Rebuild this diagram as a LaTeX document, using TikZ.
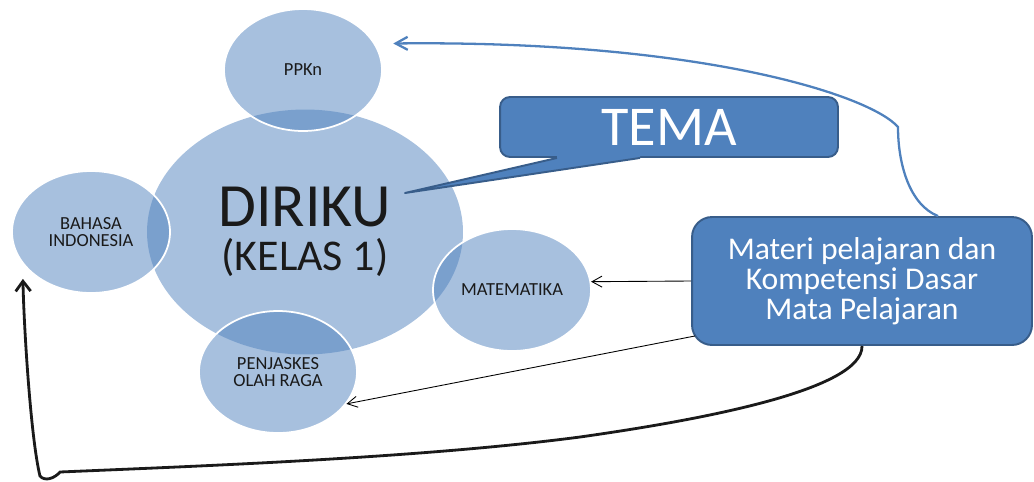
\documentclass[tikz,border=0pt]{standalone}
\usepackage{fontspec}
\setmainfont{Carlito}
\usepackage{xcolor}
\usetikzlibrary{shapes.geometric,arrows.meta,calc}
\definecolor{temablue}{HTML}{4F81BD}
\definecolor{temaline}{HTML}{385D8A}
\definecolor{temaink}{HTML}{1A1A1A}

\begin{document}
\begin{tikzpicture}[
    x=0.02cm,y=-0.02cm,
    mapel/.style  = {ellipse, fill=temablue, fill opacity=0.5, text opacity=1,
                     draw=white, line width=1pt, inner sep=0pt, align=center,
                     text=temaink, font=\fontsize{10.5}{9.5}\selectfont,
                     minimum width=3.16cm, minimum height=2.44cm},
    pusat/.style  = {mapel, draw=none, minimum width=6.32cm, minimum height=4.9cm,
                     font=\fontsize{25}{25}\selectfont},
    kotak/.style  = {rectangle, fill=temablue, draw=temaline, line width=1.1pt,
                     text=white, align=center, inner sep=2pt},
    tipis/.style  = {-{Straight Barb[length=2mm,width=2.2mm]}, black, line width=0.5pt},
    tebal/.style  = {-{Straight Barb[length=2mm,width=3mm]}, temaink, line width=1.6pt},
    biru/.style   = {-{Straight Barb[length=2.4mm,width=2.6mm]}, temablue, line width=1.3pt},
  ]

  \useasboundingbox (0,0) rectangle (1034,481);

  % ── Tema pusat ──────────────────────────────────────────────────────────
  \node[pusat] (diriku) at (305,232)
       {{\fontsize{35}{25}\selectfont DIRIKU}\\{(KELAS 1)}};

  % ── Mata pelajaran ──────────────────────────────────────────────────────
  \node[mapel] (ppkn)   at (303, 70) {PPKn};
  \node[mapel] (bahasa) at ( 91,232) {BAHASA\\INDONESIA};
  \node[mapel] (mat)    at (512,290) {MATEMATIKA};
  \node[mapel] (penj)   at (278,372) {PENJASKES\\OLAH RAGA};

  % ── Label TEMA ──────────────────────────────────────────────────────────
  \node[kotak,rounded corners=0.2cm,minimum width=6.76cm,minimum height=1.2cm,
        font=\fontsize{32}{32}\selectfont] (tema) at (669,127) {TEMA};
  \coordinate (ujung) at (405,193);
  \fill[temablue] ($(tema.south)+(-112,0)$) -- (ujung) -- ($(tema.south)+(-29,0)$)
       -- ($(tema.south)+(-29,-4)$) -- ($(tema.south)+(-112,-4)$) -- cycle;
  \draw[temaline,line width=1.1pt,line join=round]
       ($(tema.south)+(-112,0)$) -- (ujung) -- ($(tema.south)+(-29,0)$);

  % ── Materi ──────────────────────────────────────────────────────────────
  \node[kotak,rounded corners=0.4cm,minimum width=6.8cm,minimum height=2.56cm,
        font={\fontsize{18}{17}\selectfont\lineskiplimit=-5pt\relax}] (materi) at (862,281)
       {Materi pelajaran dan\\Kompetensi Dasar\\Mata Pelajaran};

  % ── Panah ───────────────────────────────────────────────────────────────
  \draw[tipis] (materi.west) -- (mat.6);
  \draw[tipis] ($(materi.south west)+(4,-10)$) -- (penj.-25);

  \draw[biru,shorten >=0.36cm] ($(materi.north)+(76,0)$)
       .. controls (910,205) and (898,165) .. (898,127)
       .. controls (870,95) and (700,40) .. (ppkn.20);

  \draw[tebal,shorten >=0.3cm] (materi.south)
       .. controls (863,390) and (700,420) .. (580,437)
       .. controls (420,458) and (200,466) .. (60,472)
       .. controls (55,478) and (45,482) .. (40,476)
       .. controls (31,440) and (24,330) .. (bahasa.205);

\end{tikzpicture}
\end{document}
